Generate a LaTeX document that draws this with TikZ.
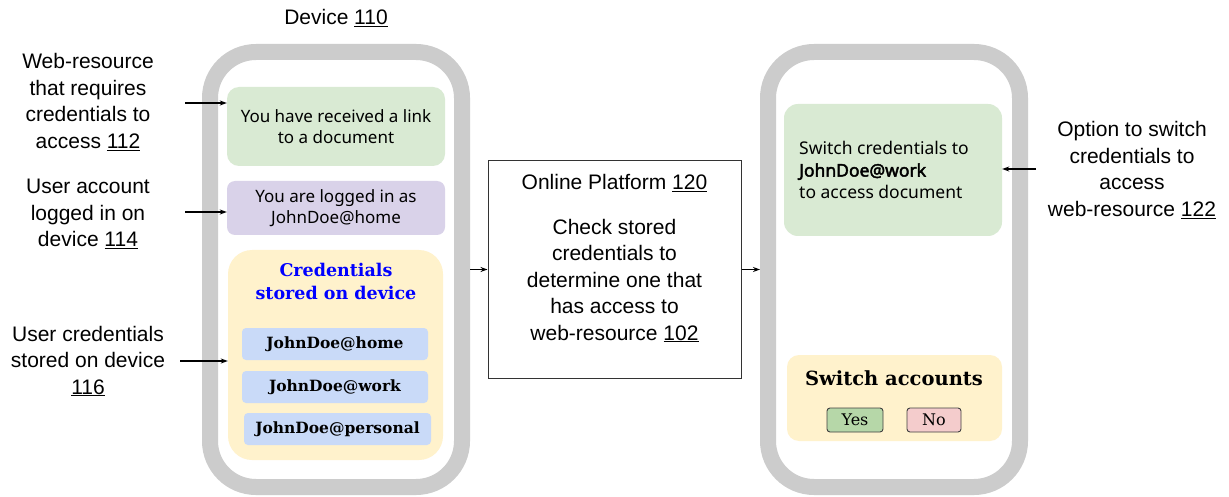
\documentclass[tikz,border=0pt]{standalone}
\usepackage{fontspec}
\setmainfont{Liberation Sans}
\newfontfamily\boxfont{Noto Sans}[BoldFont={Noto Sans}, BoldFeatures={FakeBold=2.5}]
\newfontfamily\serifb{DejaVu Serif}
\usetikzlibrary{arrows.meta}
\definecolor{phonegray}{HTML}{CCCCCC}
\definecolor{cardgreen}{HTML}{D9EAD3}
\definecolor{cardpurple}{HTML}{D9D2E9}
\definecolor{cardyellow}{HTML}{FFF2CC}
\definecolor{credblue}{HTML}{C9DAF8}
\definecolor{yesgreen}{HTML}{B6D7A8}
\definecolor{nopink}{HTML}{F4CCCC}
\definecolor{titleblue}{HTML}{0000FF}
\begin{document}
\begin{tikzpicture}[x=1pt,y=-1pt,
  lbl/.style={align=center, inner sep=0pt, font=\fontsize{21}{26.5}\selectfont},
  phone/.style={draw=phonegray, line width=16pt, rounded corners=46pt, minimum width=252pt, minimum height=435pt, inner sep=0pt},
  card/.style={inner sep=0pt, align=center, font=\boxfont\fontsize{17}{21}\selectfont},
  cred/.style={fill=credblue, rounded corners=4pt, inner sep=0pt, minimum height=32pt, font=\serifb\bfseries\fontsize{15.5}{18}\selectfont},
  btn/.style={draw=black!75, line width=0.9pt, rounded corners=3pt, inner sep=0pt, minimum height=24pt, font=\serifb\fontsize{16}{18}\selectfont},
  arr/.style={-{Stealth[length=7pt,width=5pt]}, line width=1.1pt}
]
\path[use as bounding box, fill=white] (0,0) rectangle (1229,497);

% devices
\node[phone] (dev1) at (336,269.5) {};
\node[phone] (dev2) at (894,269.5) {};
\node[lbl] (devlbl) at (336,18) {Device \underline{110}};

% device 1 cards
\node[card, fill=cardgreen, rounded corners=12pt, minimum width=218pt, minimum height=79pt] (link) at (336,126.5) {You have received a link\\to a document};
\node[card, fill=cardpurple, rounded corners=8pt, minimum width=218pt, minimum height=54pt] (logged) at (336,208) {You are logged in as\\JohnDoe@home};
\node[fill=cardyellow, rounded corners=24pt, minimum width=215pt, minimum height=210pt, inner sep=0pt] (store) at (335.5,355) {};
\node[align=center, inner sep=0pt, text=titleblue, font=\serifb\bfseries\fontsize{17.5}{23}\selectfont] (storetitle) at (336,281) {Credentials\\stored on device};
\node[cred, minimum width=186pt] (home) at (335,344) {JohnDoe@home};
\node[cred, minimum width=186pt] (work) at (335,387) {JohnDoe@work};
\node[cred, minimum width=187pt] (personal) at (337.5,429) {JohnDoe@personal};

% left labels
\node[lbl] (lab1) at (88,102) {Web-resource\\that requires\\credentials to\\access \underline{112}};
\node[lbl] (lab2) at (88,214) {User account\\logged in on\\device \underline{114}};
\node[lbl] (lab3) at (88,361) {User credentials\\stored on device\\\underline{116}};
\coordinate (s1) at (185,103);
\coordinate (s2) at (185,212);
\coordinate (s3) at (180,361);
\draw[arr] (s1) -- (s1 -| link.west);
\draw[arr] (s2) -- (s2 -| logged.west);
\draw[arr] (s3) -- (s3 -| store.west);

% platform
\node[draw=black!80, line width=1pt, minimum width=253pt, minimum height=217pt, inner sep=0pt] (plat) at (614.5,269.5) {};
\node[lbl] (plattitle) at (614.5,183) {Online Platform \underline{120}};
\node[lbl] (platbody) at (614.5,280.5) {Check stored\\credentials to\\determine one that\\has access to\\web-resource \underline{102}};
\draw[arr] (dev1.east) -- (plat.west);
\draw[arr] (plat.east) -- (dev2.west);

% device 2 cards
\node[fill=cardgreen, rounded corners=14pt, minimum width=218pt, minimum height=132pt, inner sep=0pt] (switch) at (893,170) {};
\node[card, align=left, anchor=west, font=\boxfont\fontsize{17.5}{22}\selectfont] (switchtxt) at (799,170) {Switch credentials to\\\textbf{JohnDoe@work}\\to access document};
\node[fill=cardyellow, rounded corners=12pt, minimum width=215pt, minimum height=86pt, inner sep=0pt] (accts) at (894.5,398) {};
\node[inner sep=0pt, font=\serifb\bfseries\fontsize{19.5}{22}\selectfont] (acctstitle) at (894,378) {Switch accounts};
\node[btn, fill=yesgreen, minimum width=56pt] (yes) at (855,420) {Yes};
\node[btn, fill=nopink, minimum width=54pt] (no) at (934,420) {No};

% right label
\node[lbl] (lab4) at (1132,170) {Option to switch\\credentials to\\access\\web-resource \underline{122}};
\coordinate (s4) at (1036,169);
\draw[arr] (s4) -- (s4 -| switch.east);
\end{tikzpicture}
\end{document}
